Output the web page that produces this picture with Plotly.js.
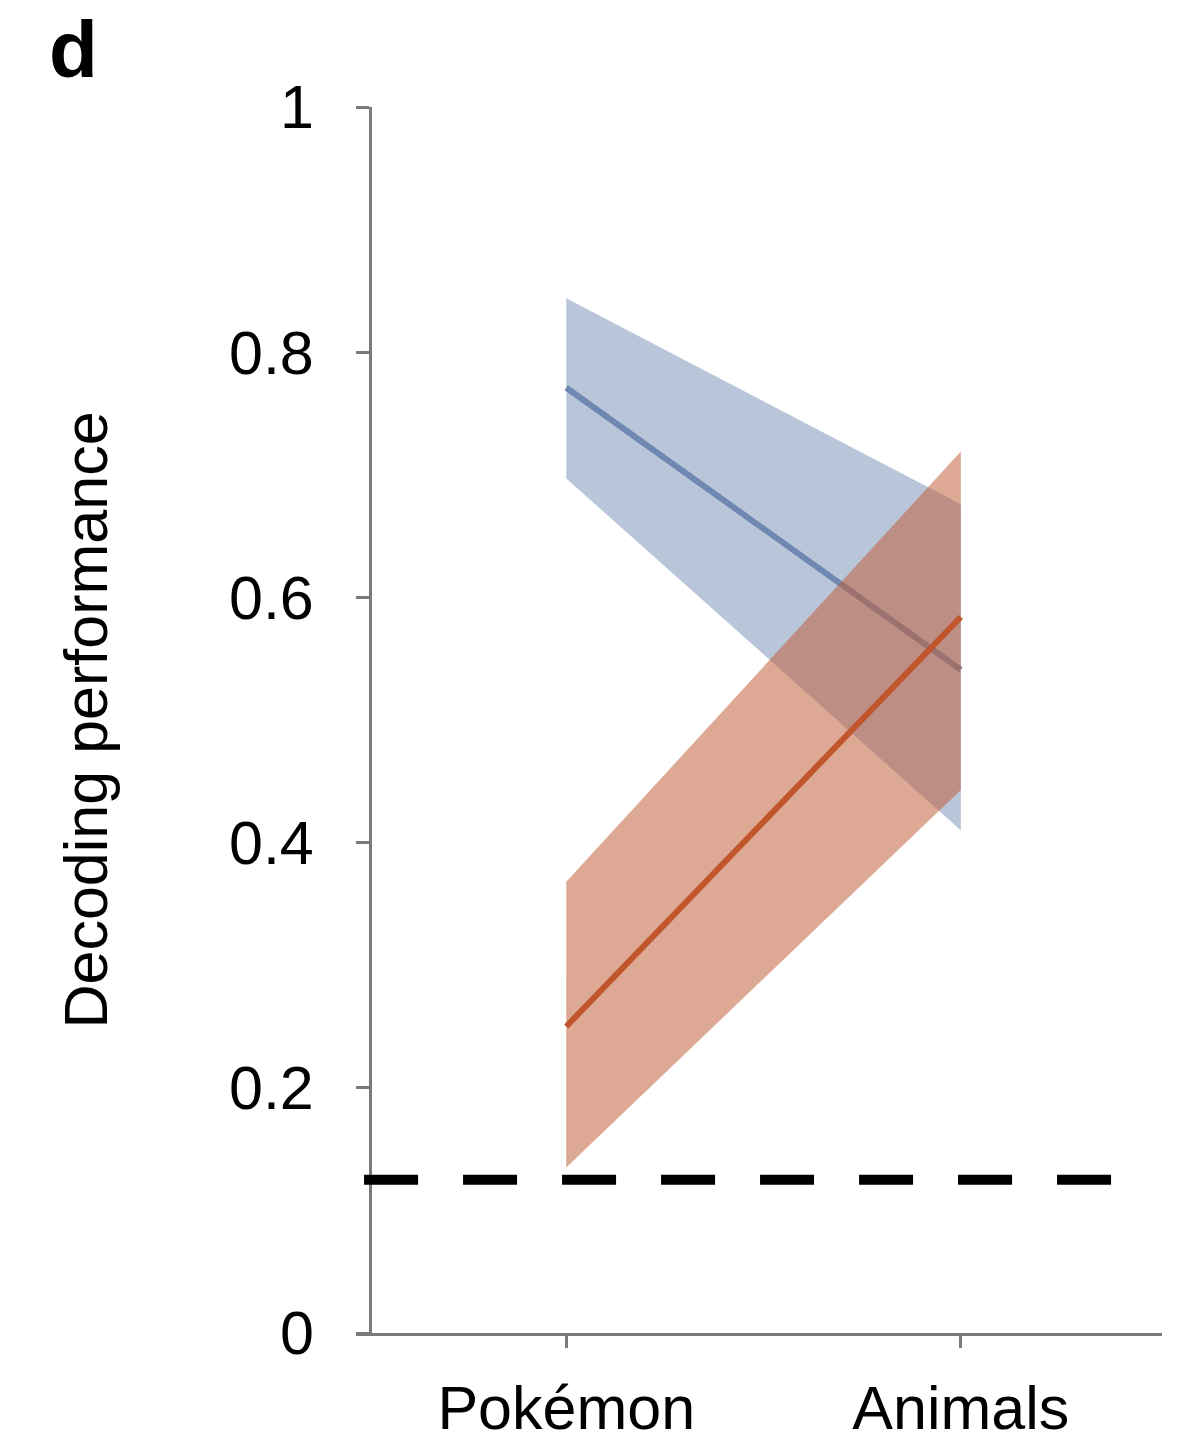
<!DOCTYPE html>
<html>
<head>
<meta charset="utf-8">
<script src="https://cdn.plot.ly/plotly-3.0.1.min.js"></script>
<style>html,body{margin:0;padding:0;background:#fff;}#chart{width:1178px;height:1447px;}</style>
</head>
<body>
<div id="chart"></div>
<script>
// ---- data ----
const categories = ['Pokémon', 'Animals'];
const blueMean  = [0.771, 0.541];
const blueUpper = [0.844, 0.676];
const blueLower = [0.697, 0.410];
const orangeMean  = [0.250, 0.584];
const orangeUpper = [0.368, 0.719];
const orangeLower = [0.135, 0.443];
const chanceLevel = 0.125;
const yTickVals = [0, 0.2, 0.4, 0.6, 0.8, 1];
const yTickText = ['0', '0.2', '0.4', '0.6', '0.8', '1'];
const panelLabel = 'd';
const yTitle = 'Decoding performance';

const font = 'Liberation Sans, Arial, Helvetica, sans-serif';
const blueFill = 'rgba(95,125,170,0.44)';
const blueLine = '#6f88b2';
const orangeFill = 'rgba(193,97,60,0.55)';
const orangeLine = '#c1552b';

const traces = [
  {x: categories, y: blueUpper, type: 'scatter', mode: 'lines', line: {width: 0, color: blueFill}, hoverinfo: 'skip', showlegend: false},
  {x: categories, y: blueLower, type: 'scatter', mode: 'lines', line: {width: 0, color: blueFill}, fill: 'tonexty', fillcolor: blueFill, showlegend: false},
  {x: categories, y: blueMean, type: 'scatter', mode: 'lines', line: {width: 6, color: blueLine}, showlegend: false},
  {x: categories, y: orangeUpper, type: 'scatter', mode: 'lines', line: {width: 0, color: orangeFill}, hoverinfo: 'skip', showlegend: false},
  {x: categories, y: orangeLower, type: 'scatter', mode: 'lines', line: {width: 0, color: orangeFill}, fill: 'tonexty', fillcolor: orangeFill, showlegend: false},
  {x: categories, y: orangeMean, type: 'scatter', mode: 'lines', line: {width: 6, color: orangeLine}, showlegend: false}
];

const layout = {
  width: 1178, height: 1447,
  margin: {l: 356, r: 16, t: 107, b: 114},
  paper_bgcolor: '#fff', plot_bgcolor: '#fff',
  showlegend: false,
  font: {family: font, color: '#000'},
  xaxis: {
    type: 'category',
    range: [-0.533, 1.51],
    showgrid: false, zeroline: false,
    showline: true, linecolor: '#7a7a7a', linewidth: 3,
    ticks: 'outside', ticklen: 12, tickwidth: 3, tickcolor: '#7a7a7a',
    tickfont: {family: font, size: 61, color: '#000'},
    ticklabelstandoff: 8
  },
  yaxis: {
    range: [0, 1],
    anchor: 'free', position: 0.0174,
    showgrid: false, zeroline: false,
    showline: true, linecolor: '#7a7a7a', linewidth: 3,
    ticks: 'outside', ticklen: 13, tickwidth: 3, tickcolor: '#7a7a7a',
    tickvals: yTickVals, ticktext: yTickText,
    tickfont: {family: font, size: 61, color: '#000'},
    ticklabelstandoff: 30,
    title: {text: yTitle, font: {family: font, size: 61, color: '#000'}, standoff: 100}
  },
  shapes: [
    {type: 'line', xref: 'paper', yref: 'y', x0: 0.01, x1: 0.946, y0: chanceLevel, y1: chanceLevel,
     line: {color: '#000', width: 10, dash: '54px,45px'}, layer: 'above'}
  ],
  annotations: [
    {text: '<b>' + panelLabel + '</b>', xref: 'paper', yref: 'paper', x: -0.383, y: 1.047,
     xanchor: 'left', yanchor: 'middle', showarrow: false,
     font: {family: font, size: 80, color: '#000'}}
  ]
};

Plotly.newPlot('chart', traces, layout, {displayModeBar: false, staticPlot: true});
</script>
</body>
</html>
